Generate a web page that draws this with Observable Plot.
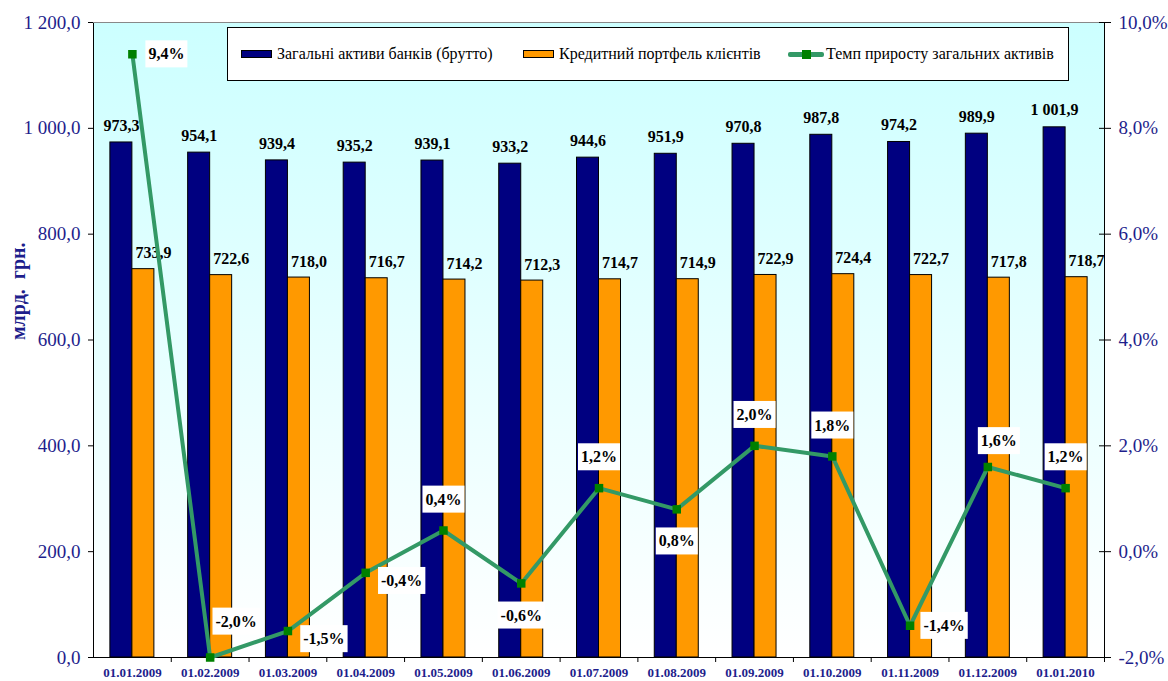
<!DOCTYPE html>
<html><head><meta charset="utf-8">
<script src="https://cdn.jsdelivr.net/npm/d3@7"></script>
<script src="https://cdn.jsdelivr.net/npm/@observablehq/plot@0.6"></script>
<style>
body{margin:0;background:#fff;}
#wrap{position:relative;width:1168px;height:681px;overflow:hidden;}
#legend{position:absolute;left:227px;top:27px;width:842px;height:54px;box-sizing:border-box;border:1px solid #000;background:#fff;font-family:"Liberation Serif","Times New Roman",serif;font-size:16px;color:#000;}
.li{position:absolute;top:0;height:52px;display:flex;align-items:center;white-space:nowrap;}
.sw{width:31px;height:8px;border:1px solid #000;margin-right:5px;box-sizing:border-box;}
.ln{position:relative;width:36px;height:5px;background:#339966;margin-right:2px;border-radius:2px;}
.ln i{position:absolute;left:14px;top:-2px;width:9px;height:9px;background:#008000;}
</style>
</head><body><div id="wrap"></div>
<script>
const dates = ["01.01.2009","01.02.2009","01.03.2009","01.04.2009","01.05.2009","01.06.2009","01.07.2009","01.08.2009","01.09.2009","01.10.2009","01.11.2009","01.12.2009","01.01.2010"];
const assets = [973.3,954.1,939.4,935.2,939.1,933.2,944.6,951.9,970.8,987.8,974.2,989.9,1001.9];
const loans = [733.9,722.6,718.0,716.7,714.2,712.3,714.7,714.9,722.9,724.4,722.7,717.8,718.7];
const growth = [9.4,-2.0,-1.5,-0.4,0.4,-0.6,1.2,0.8,2.0,1.8,-1.4,1.6,1.2];
const pctPlacement = ["r","ur","dr","dr","u","d","u","d","u","u","r","ru","u"];
const leftTicks = [0,200,400,600,800,1000,1200];
const rightTicks = [-2,0,2,4,6,8,10];
const seriesNames = ["Загальні активи банків (брутто)","Кредитний портфель клієнтів","Темп приросту загальних активів"];
const yTitle = "млрд.  грн.";

const NAVY = "#000080", ORANGE = "#FF9900", LINE = "#339966", MARK = "#008000", AXC = "#1e1e8c";
const PCT_FILL = "#010101";
const W = 1168, H = 681, mL = 93, mR = 64, mT = 22, mB = 24;
const step = (W - mL - mR) / dates.length;
const barW = 22;

const data = dates.map((d, i) => ({date: d, assets: assets[i], loans: loans[i], growth: growth[i], place: pctPlacement[i]}));
const gToY = g => (g + 2) * 100; // right axis -2..10 % mapped onto 0..1200
const fmtNum = v => d3.format(",.1f")(v).replace(/,/g, "\u00a0").replace(".", ",");
const fmtPct = v => d3.format(".1f")(v).replace(".", ",").replace("−","-") + "%";

const offsets = {r: [34, 0], ur: [26, -36], dr: [36, 8], u: [0, -31], d: [0, 32], ru: [11, -26]};

const font = '"Liberation Serif", "Times New Roman", serif';
const pctMarks = Object.keys(offsets).map(k => Plot.text(data.filter(d => d.place === k), {
  x: "date", y: d => gToY(d.growth), text: d => fmtPct(d.growth),
  dx: offsets[k][0], dy: offsets[k][1], fontSize: 16, fontWeight: "bold", fill: PCT_FILL
}));

const chart = Plot.plot({
  width: W, height: H,
  marginLeft: mL, marginRight: mR, marginTop: mT, marginBottom: mB,
  style: {fontFamily: font, background: "white", overflow: "visible"},
  x: {type: "band", domain: dates, round: false, paddingInner: 1 - barW / step, paddingOuter: (1 - barW / step) / 2, label: null},
  y: {domain: [0, 1200], label: null},
  marks: [
    Plot.frame({fill: "url(#bgGrad)", stroke: null}),
    Plot.barY(data, {x: "date", y: "assets", fill: NAVY, stroke: "#000", strokeWidth: 1, dx: -barW / 2}),
    Plot.barY(data, {x: "date", y: "loans", fill: ORANGE, stroke: "#000", strokeWidth: 1, dx: barW / 2}),
    Plot.frame({stroke: "#000", strokeWidth: 1}),
    Plot.ruleY([1200], {stroke: "#888"}),
    Plot.text(data, {x: "date", y: "assets", text: d => fmtNum(d.assets), dx: -barW / 2, dy: -17, fontSize: 16, fontWeight: "bold", fill: "#000"}),
    Plot.text(data, {x: "date", y: "loans", text: d => fmtNum(d.loans), dx: barW / 2 + 10, dy: -16, fontSize: 16, fontWeight: "bold", fill: "#000"}),
    Plot.line(data, {x: "date", y: d => gToY(d.growth), stroke: LINE, strokeWidth: 4}),
    Plot.dot(data, {x: "date", y: d => gToY(d.growth), symbol: "square", r: 4.8, fill: MARK, stroke: null}),
    ...pctMarks,
    Plot.axisY(leftTicks, {anchor: "left", tickSize: 5, tickPadding: 8, tickFormat: fmtNum, fontSize: 19, fill: AXC, stroke: "#000"}),
    Plot.axisY(rightTicks.map(gToY), {anchor: "right", tickSize: 6, tickPadding: 8, tickFormat: v => fmtPct(v / 100 - 2), fontSize: 19, fill: AXC, stroke: "#000"}),
    Plot.axisY(rightTicks.map(gToY), {anchor: "right", tickSize: 6, dx: -6, tickFormat: () => "", stroke: "#000"}),
    Plot.axisX({tickSize: 0, tickPadding: 10, fontSize: 13, fontWeight: "bold", fill: AXC}),
    Plot.axisX({tickSize: 5, dx: step / 2, tickFormat: () => "", stroke: "#000"}),
    Plot.text([yTitle], {frameAnchor: "left", dx: -75, rotate: -90, fontSize: 20, fontWeight: "bold", fill: AXC})
  ]
});

const wrap = document.getElementById("wrap");
wrap.appendChild(chart);

// gradient background for the plot area
d3.select(chart).insert("defs", ":first-child").html(
  '<linearGradient id="bgGrad" x1="0" y1="0" x2="0" y2="1">' +
  '<stop offset="0" stop-color="#CCFFFF"/><stop offset="1" stop-color="#FFFFFF"/></linearGradient>');

// white boxes behind the percentage labels
chart.querySelectorAll(`[fill="${PCT_FILL}"] text, text[fill="${PCT_FILL}"]`).forEach(t => {
  const b = t.getBBox();
  const r = document.createElementNS("http://www.w3.org/2000/svg", "rect");
  r.setAttribute("x", b.x - 3); r.setAttribute("y", b.y - 5);
  r.setAttribute("width", b.width + 6); r.setAttribute("height", b.height + 10);
  r.setAttribute("fill", "#fff");
  if (t.getAttribute("transform")) r.setAttribute("transform", t.getAttribute("transform"));
  t.parentNode.insertBefore(r, t);
});

// legend
const legend = document.createElement("div");
legend.id = "legend";
const items = [
  {left: 13, html: `<div class="sw" style="background:${NAVY}"></div>`},
  {left: 295, html: `<div class="sw" style="background:${ORANGE}"></div>`},
  {left: 560, html: `<div class="ln"><i></i></div>`}
];
items.forEach((it, i) => {
  const el = document.createElement("div");
  el.className = "li";
  el.style.left = it.left + "px";
  el.innerHTML = it.html + `<span>${seriesNames[i]}</span>`;
  legend.appendChild(el);
});
wrap.appendChild(legend);
</script>
</body></html>
